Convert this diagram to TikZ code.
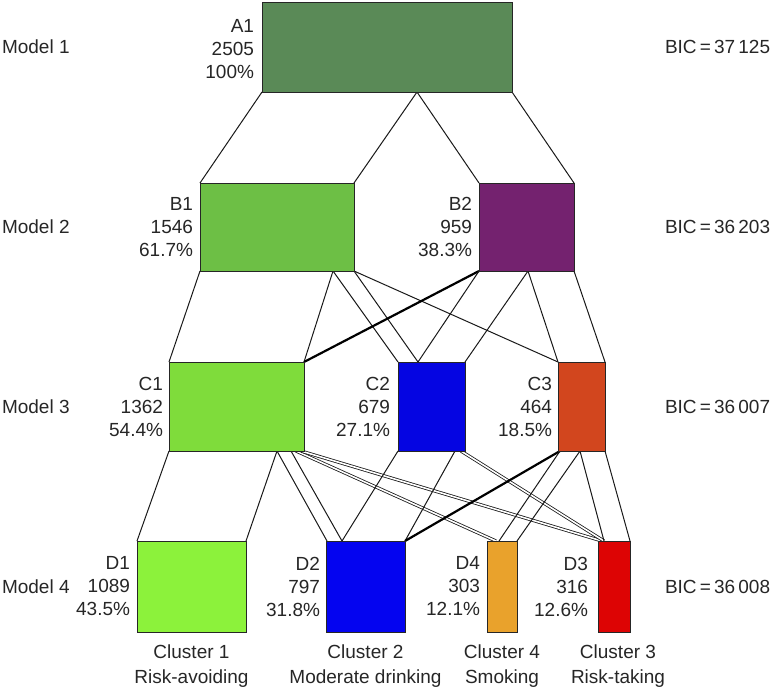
\documentclass[tikz,border=0pt]{standalone}
\usepackage{fontspec}
\setmainfont{Liberation Sans}
\begin{document}
\begin{tikzpicture}[x=1pt,y=-1pt,
  box/.style={draw=black!85,line width=1pt,inner sep=0pt,outer sep=0pt},
  lbl/.style={inner sep=0pt,outer sep=0pt,align=right,anchor=east,text=black!85,font=\fontsize{19}{23}\selectfont},
  side/.style={inner sep=0pt,outer sep=0pt,text=black!85,font=\fontsize{19}{23}\selectfont},
  clu/.style={inner sep=0pt,outer sep=0pt,align=center,anchor=north,text=black!85,font=\fontsize{19}{25}\selectfont},
  flow/.style={draw=black!90,line width=1pt},
  thin/.style={draw=black,line width=2.2pt},
  dbl/.style={draw=black!90,line width=0.8pt,double=white,double distance=1.6pt}]
\definecolor{cA}{HTML}{5A8A57}
\definecolor{cB1}{HTML}{6DBF45}
\definecolor{cB2}{HTML}{74226F}
\definecolor{cC1}{HTML}{7FDC3B}
\definecolor{cC2}{HTML}{0505E2}
\definecolor{cC3}{HTML}{D2461E}
\definecolor{cD1}{HTML}{8CF23B}
\definecolor{cD2}{HTML}{0404F0}
\definecolor{cD4}{HTML}{E9A22C}
\definecolor{cD3}{HTML}{DD0404}
\useasboundingbox (0,0) rectangle (773,689);
% boxes (placed first for names; redrawn on top later)
\node[box,fill=cA,minimum width=250,minimum height=90] (A1) at (387,47) {};
\node[box,fill=cB1,minimum width=154,minimum height=88] (B1) at (277,227) {};
\node[box,fill=cB2,minimum width=95,minimum height=88] (B2) at (526.5,227) {};
\node[box,fill=cC1,minimum width=135,minimum height=89] (C1) at (236.5,406.5) {};
\node[box,fill=cC2,minimum width=67,minimum height=89] (C2) at (431.5,406.5) {};
\node[box,fill=cC3,minimum width=47,minimum height=89] (C3) at (581.5,406.5) {};
\node[box,fill=cD1,minimum width=109,minimum height=91] (D1) at (191.5,586.5) {};
\node[box,fill=cD2,minimum width=79,minimum height=91] (D2) at (365.5,586.5) {};
\node[box,fill=cD4,minimum width=30,minimum height=91] (D4) at (502,586.5) {};
\node[box,fill=cD3,minimum width=32,minimum height=91] (D3) at (614,586.5) {};
% A -> B
\draw[flow] (A1.south west) -- (B1.north west);
\draw[flow] ([xshift=155pt]A1.south west) -- (B1.north east);
\draw[flow] ([xshift=155pt]A1.south west) -- (B2.north west);
\draw[flow] (A1.south east) -- (B2.north east);
% B -> C
\draw[flow] (B1.south west) -- (C1.north west);
\draw[flow] ([xshift=133pt]B1.south west) -- (C1.north east);
\draw[flow] ([xshift=133pt]B1.south west) -- (C2.north west);
\draw[flow] (B1.south east) -- ([xshift=20pt]C2.north west);
\draw[flow] (B1.south east) -- (C3.north west);
\draw[thin] (B2.south west) -- (C1.north east);
\draw[flow] (B2.south west) -- ([xshift=20pt]C2.north west);
\draw[flow] ([xshift=49pt]B2.south west) -- (C2.north east);
\draw[flow] ([xshift=49pt]B2.south west) -- (C3.north west);
\draw[flow] (B2.south east) -- (C3.north east);
% C -> D
\draw[flow] (C1.south west) -- (D1.north west);
\draw[flow] ([xshift=108pt]C1.south west) -- (D1.north east);
\draw[flow] ([xshift=108pt]C1.south west) -- ([xshift=1pt]D2.north west);
\draw[flow] ([xshift=122pt]C1.south west) -- ([xshift=16pt]D2.north west);
\draw[dbl] ([xshift=127pt]C1.south west) -- ([xshift=9pt]D4.north west);
\draw[dbl] ([xshift=132pt]C1.south west) -- ([xshift=4pt]D3.north west);
\draw[flow] (C2.south west) -- ([xshift=16pt]D2.north west);
\draw[flow] ([xshift=57pt]C2.south west) -- (D2.north east);
\draw[dbl] ([xshift=63pt]C2.south west) -- ([xshift=6pt]D3.north west);
\draw[thin] ([xshift=2pt]C3.south west) -- (D2.north east);
\draw[flow] ([xshift=2pt]C3.south west) -- ([xshift=12pt]D4.north west);
\draw[flow] ([xshift=22pt]C3.south west) -- (D4.north east);
\draw[flow] ([xshift=22pt]C3.south west) -- ([xshift=6pt]D3.north west);
\draw[flow] (C3.south east) -- (D3.north east);
% redraw boxes on top
\foreach \n/\c in {A1/cA,B1/cB1,B2/cB2,C1/cC1,C2/cC2,C3/cC3,D1/cD1,D2/cD2,D4/cD4,D3/cD3}
  \draw[box,fill=\c] (\n.north west) rectangle (\n.south east);
% box labels
\node[lbl] (lA1) at ([xshift=-8pt,yshift=-2pt]A1.west) {A1\\2505\\100\%};
\node[lbl] (lB1) at ([xshift=-7pt]B1.west) {B1\\1546\\61.7\%};
\node[lbl] (lB2) at ([xshift=-7pt]B2.west) {B2\\959\\38.3\%};
\node[lbl] (lC1) at ([xshift=-6pt]C1.west) {C1\\1362\\54.4\%};
\node[lbl] (lC2) at ([xshift=-8pt]C2.west) {C2\\679\\27.1\%};
\node[lbl] (lC3) at ([xshift=-6pt]C3.west) {C3\\464\\18.5\%};
\node[lbl] (lD1) at ([xshift=-7pt]D1.west) {D1\\1089\\43.5\%};
\node[lbl] (lD2) at ([xshift=-6pt]D2.west) {D2\\797\\31.8\%};
\node[lbl] (lD4) at ([xshift=-7pt]D4.west) {D4\\303\\12.1\%};
\node[lbl] (lD3) at ([xshift=-10pt]D3.west) {D3\\316\\12.6\%};
% model labels
\node[side,anchor=west] (m1) at (2,47) {Model 1};
\node[side,anchor=west] (m2) at (2,227) {Model 2};
\node[side,anchor=west] (m3) at (2,406.5) {Model 3};
\node[side,anchor=west] (m4) at (2,586.5) {Model 4};
% BIC labels
\node[side,anchor=west] (b1) at (665,47) {BIC\,=\,37\,125};
\node[side,anchor=west] (b2) at (665,227) {BIC\,=\,36\,203};
\node[side,anchor=west] (b3) at (665,406.5) {BIC\,=\,36\,007};
\node[side,anchor=west] (b4) at (665,586.5) {BIC\,=\,36\,008};
% cluster labels
\node[clu] (k1) at ([yshift=-13pt]D1.south) {Cluster 1\\Risk-avoiding};
\node[clu] (k2) at ([yshift=-13pt]D2.south) {Cluster 2\\Moderate drinking};
\node[clu] (k4) at ([yshift=-13pt]D4.south) {Cluster 4\\Smoking};
\node[clu] (k3) at ([yshift=-13pt,xshift=4pt]D3.south) {Cluster 3\\Risk-taking};
\end{tikzpicture}
\end{document}
